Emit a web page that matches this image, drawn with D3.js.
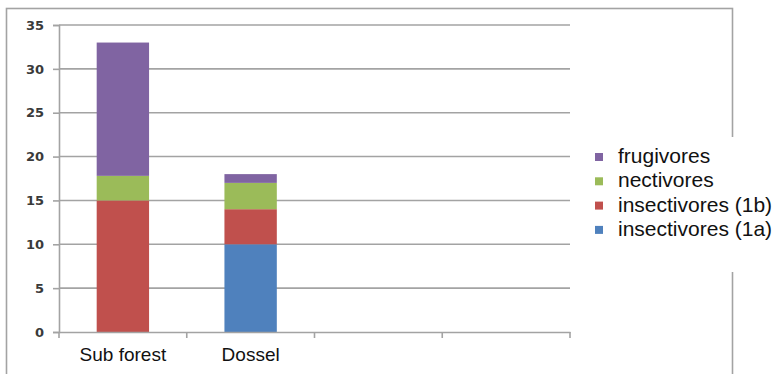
<!DOCTYPE html>
<html>
<head>
<meta charset="utf-8">
<script src="https://cdn.jsdelivr.net/npm/d3@7"></script>
<style>
  html, body { margin: 0; padding: 0; background: #fff; }
  svg { display: block; }
</style>
</head>
<body>
<svg id="chart" width="778" height="374"></svg>
<script>
// Habitat strata (two empty slots follow, as on the category axis)
const categories = ["Sub forest", "Dossel", "", ""];
// Stack order bottom to top
const seriesNames = ["insectivores (1a)", "insectivores (1b)", "nectivores", "frugivores"];
const insectivores1a = [0, 10];
const insectivores1b = [15, 4];
const nectivores = [2.8, 3];
const frugivores = [15.2, 1];
const seriesColors = ["#4F81BD", "#C0504D", "#9BBB59", "#8064A2"];
const yTicks = [0, 5, 10, 15, 20, 25, 30, 35];

const svg = d3.select("#chart");
const W = 778, H = 374;
const plot = { left: 59, right: 570, top: 25, bottom: 332 };
const gridColor = "#a3a3a3";

// Outer chart frame
svg.append("rect")
  .attr("x", 6.5).attr("y", 8.5)
  .attr("width", 726).attr("height", 380)
  .attr("fill", "#fff")
  .attr("stroke", gridColor).attr("stroke-width", 1.6);

const y = d3.scaleLinear().domain([0, 35]).range([plot.bottom, plot.top]);
const x = d3.scaleBand()
  .domain(d3.range(categories.length))
  .range([plot.left, plot.right])
  .paddingInner(0).paddingOuter(0);

// Horizontal gridlines
svg.append("g")
  .selectAll("line")
  .data(yTicks.filter(t => t > 0))
  .join("line")
  .attr("x1", plot.left).attr("x2", plot.right)
  .attr("y1", d => y(d)).attr("y2", d => y(d))
  .attr("stroke", gridColor).attr("stroke-width", 1.6);

// Stacked bars
const rows = categories.slice(0, 2).map((c, i) => ({
  idx: i,
  "insectivores (1a)": insectivores1a[i],
  "insectivores (1b)": insectivores1b[i],
  "nectivores": nectivores[i],
  "frugivores": frugivores[i]
}));
const stacked = d3.stack().keys(seriesNames)(rows);
const barW = x.bandwidth() * 0.41;

svg.append("g")
  .selectAll("g")
  .data(stacked)
  .join("g")
  .attr("fill", (d, i) => seriesColors[i])
  .selectAll("rect")
  .data(d => d.filter(s => s[1] - s[0] > 0))
  .join("rect")
  .attr("x", d => x(d.data.idx) + (x.bandwidth() - barW) / 2)
  .attr("width", barW)
  .attr("y", d => y(d[1]))
  .attr("height", d => y(d[0]) - y(d[1]));

// Y axis
const yAxis = d3.axisLeft(y).tickValues(yTicks).tickSize(6).tickPadding(9);
const gy = svg.append("g").attr("transform", `translate(${plot.left},0)`).call(yAxis);
gy.select(".domain").attr("stroke", gridColor).attr("stroke-width", 1.6);
gy.selectAll(".tick line").attr("stroke", gridColor).attr("stroke-width", 1.6);
gy.selectAll(".tick text")
  .attr("font-family", "DejaVu Sans, sans-serif")
  .attr("font-weight", "bold")
  .attr("font-size", 13)
  .attr("fill", "#3a3a3a");

// X axis
const xAxis = d3.axisBottom(x).tickFormat(i => categories[i]).tickSize(0).tickPadding(16);
const gx = svg.append("g").attr("transform", `translate(0,${plot.bottom})`).call(xAxis);
gx.select(".domain").attr("stroke", gridColor).attr("stroke-width", 1.6);
gx.selectAll(".tick text")
  .attr("font-family", "Liberation Sans, Arial, sans-serif")
  .attr("font-size", 19)
  .attr("fill", "#111");
// Tick marks at category boundaries
svg.append("g")
  .selectAll("line")
  .data(d3.range(categories.length + 1))
  .join("line")
  .attr("x1", i => plot.left + i * x.step()).attr("x2", i => plot.left + i * x.step())
  .attr("y1", plot.bottom).attr("y2", plot.bottom + 6)
  .attr("stroke", gridColor).attr("stroke-width", 1.6);

// Legend (top entry is the top of the stack)
const legend = svg.append("g");
legend.append("rect")
  .attr("x", 582).attr("y", 137).attr("width", 196).attr("height", 135)
  .attr("fill", "#fff");
const legendOrder = seriesNames.slice().reverse();
const legendColors = seriesColors.slice().reverse();
const items = legend.selectAll("g.item")
  .data(legendOrder)
  .join("g")
  .attr("class", "item")
  .attr("transform", (d, i) => `translate(595,${163 + i * 24.3})`);
items.append("rect")
  .attr("x", 0).attr("y", -10).attr("width", 8).attr("height", 8)
  .attr("fill", (d, i) => legendColors[i]);
items.append("text")
  .attr("x", 23).attr("y", 0)
  .attr("font-family", "Liberation Sans, Arial, sans-serif")
  .attr("font-size", 21)
  .attr("fill", "#111")
  .text(d => d);
</script>
</body>
</html>
